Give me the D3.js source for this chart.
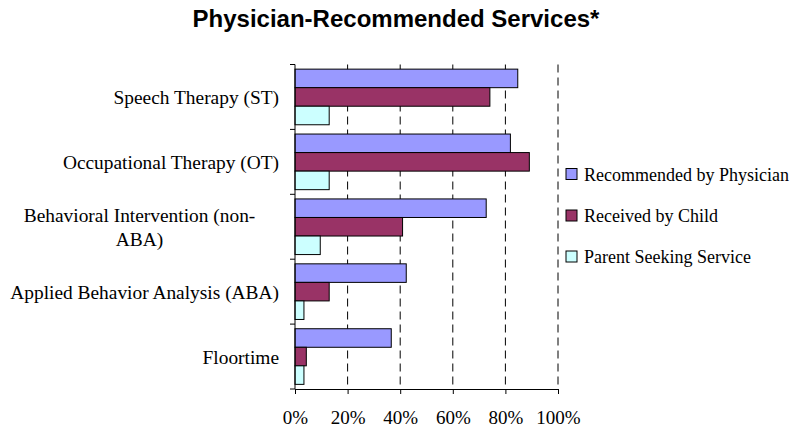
<!DOCTYPE html>
<html>
<head>
<meta charset="utf-8">
<script src="https://cdn.jsdelivr.net/npm/d3@7"></script>
<style>
  body { margin: 0; background: #fff; }
  svg { display: block; }
</style>
</head>
<body>
<svg id="chart" width="791" height="429"></svg>
<script>
// Data
const categories = [
  "Speech Therapy (ST)",
  "Occupational Therapy (OT)",
  "Behavioral Intervention (non-ABA)",
  "Applied Behavior Analysis (ABA)",
  "Floortime"
];
// label lines for wrapped category names
const categoryLines = [
  ["Speech Therapy (ST)"],
  ["Occupational Therapy (OT)"],
  ["Behavioral Intervention (non-", "ABA)"],
  ["Applied Behavior Analysis (ABA)"],
  ["Floortime"]
];
const seriesNames = ["Recommended by Physician", "Received by Child", "Parent Seeking Service"];
const recommended = [0.847, 0.819, 0.727, 0.423, 0.366];
const received = [0.741, 0.891, 0.409, 0.130, 0.043];
const seeking = [0.130, 0.130, 0.096, 0.034, 0.034];
const xTicks = [0, 0.2, 0.4, 0.6, 0.8, 1.0];
const colors = ["#9999FF", "#993366", "#CCFFFF"];

const seriesValues = [recommended, received, seeking];

const svg = d3.select("#chart");
const serif = "'Liberation Serif', 'Times New Roman', serif";

const plot = { left: 295, right: 558, top: 64.5, bottom: 389 };

const x = d3.scaleLinear().domain([0, 1]).range([plot.left, plot.right]);
const y = d3.scaleBand().domain(categories).range([plot.top, plot.bottom]).paddingInner(0).paddingOuter(0);
const yInner = d3.scaleBand().domain(d3.range(3)).range([0, y.bandwidth()]).paddingInner(0).paddingOuter(0.25);

// Title
svg.append("text")
  .attr("x", 396)
  .attr("y", 27)
  .attr("text-anchor", "middle")
  .style("font-family", "'Liberation Sans', Arial, sans-serif")
  .style("font-weight", "bold")
  .style("font-size", "24px")
  .text("Physician-Recommended Services*");

// dashed gridlines
svg.append("g")
  .selectAll("line")
  .data(xTicks.slice(1))
  .join("line")
  .attr("x1", d => x(d))
  .attr("x2", d => x(d))
  .attr("y1", plot.top)
  .attr("y2", plot.bottom)
  .attr("stroke", "#000")
  .attr("stroke-width", 1)
  .attr("stroke-dasharray", "8,5");

// bars
const groups = svg.append("g")
  .selectAll("g")
  .data(categories)
  .join("g")
  .attr("transform", d => `translate(0,${y(d)})`);

groups.selectAll("rect")
  .data((d, i) => seriesValues.map((s, j) => ({ j, v: s[i] })))
  .join("rect")
  .attr("x", x(0))
  .attr("y", d => yInner(d.j))
  .attr("width", d => x(d.v) - x(0))
  .attr("height", yInner.bandwidth())
  .attr("fill", d => colors[d.j])
  .attr("stroke", "#000")
  .attr("stroke-width", 1);

// x axis
const xAxis = svg.append("g")
  .attr("transform", `translate(0,${plot.bottom})`)
  .call(d3.axisBottom(x).tickValues(xTicks).tickFormat(d3.format(".0%")).tickSizeOuter(0).tickSize(5).tickPadding(17));
xAxis.select(".domain").attr("stroke", "#000");
xAxis.selectAll("text")
  .style("font-family", serif)
  .style("font-size", "19px")
  .attr("fill", "#000");

// y axis: tick marks at category boundaries
const yAxisG = svg.append("g");
yAxisG.append("line")
  .attr("x1", plot.left).attr("x2", plot.left)
  .attr("y1", plot.top).attr("y2", plot.bottom)
  .attr("stroke", "#000");
yAxisG.selectAll("line.tick")
  .data(categories.concat(["end"]))
  .join("line")
  .attr("class", "tick")
  .attr("x1", plot.left - 5)
  .attr("x2", plot.left)
  .attr("y1", (d, i) => i < categories.length ? y(d) : plot.bottom)
  .attr("y2", (d, i) => i < categories.length ? y(d) : plot.bottom)
  .attr("stroke", "#000");

// category labels (wrapped ones centred as a block, right edge at the axis)
const labelRight = 279;
categories.forEach((c, i) => {
  const lines = categoryLines[i];
  const cy = y(c) + y.bandwidth() / 2;
  const lineH = 24;
  const t = svg.append("text")
    .style("font-family", serif)
    .style("font-size", "19.4px")
    .attr("fill", "#000");
  lines.forEach((ln, k) => {
    t.append("tspan")
      .attr("y", cy + (k - (lines.length - 1) / 2) * lineH + 7)
      .text(ln);
  });
  if (lines.length === 1) {
    t.attr("text-anchor", "end").selectAll("tspan").attr("x", labelRight);
  } else {
    const w = t.node().getBBox().width;
    t.attr("text-anchor", "middle").selectAll("tspan").attr("x", labelRight - w / 2);
  }
});

// legend
const legend = svg.append("g");
const legendY = [174, 215.5, 256.5];
seriesNames.forEach((name, j) => {
  legend.append("rect")
    .attr("x", 566)
    .attr("y", legendY[j] - 5.5)
    .attr("width", 11)
    .attr("height", 11)
    .attr("fill", colors[j])
    .attr("stroke", "#000");
  legend.append("text")
    .attr("x", 584)
    .attr("y", legendY[j] + 6.5)
    .style("font-family", serif)
    .style("font-size", "18px")
    .attr("fill", "#000")
    .text(name);
});
</script>
</body>
</html>
